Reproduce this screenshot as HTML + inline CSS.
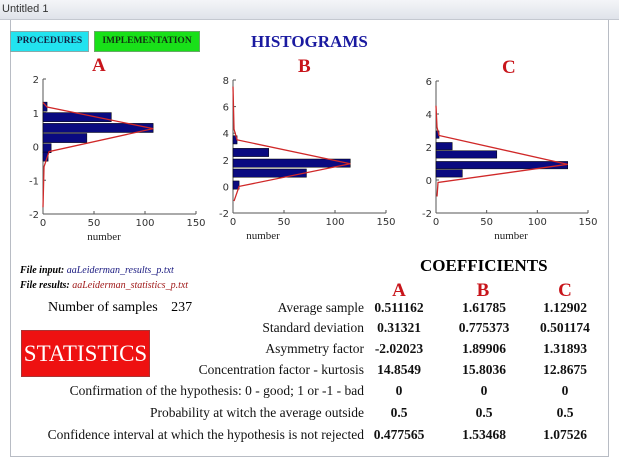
<!DOCTYPE html>
<html><head><meta charset="utf-8"><style>
body{margin:0;width:619px;height:463px;background:#fff;position:relative;overflow:hidden;font-family:"Liberation Serif",serif}
.a{position:absolute;white-space:nowrap}
.lbl{position:absolute;right:255px;font-size:13.5px;color:#111;text-align:right}
.v{position:absolute;font-size:13.5px;font-weight:bold;color:#111;transform:translateX(-50%)}
</style></head><body>
<div class="a" style="left:10px;top:0;width:597px;height:456px;border:1px solid #b8bcc4;border-top:none"></div>
<div class="a" style="left:0;top:0;width:619px;height:19px;background:linear-gradient(#f4f5f8,#dfe3ea);border-bottom:1px solid #c4c8d0"></div>
<div class="a" style="left:2px;top:3px;font:11px 'Liberation Sans',sans-serif;color:#333">Untitled 1</div>
<div class="a" style="left:10px;top:31px;width:77px;height:19px;background:#22e3ef;border:1px solid #8aa;font:bold 9.5px 'Liberation Serif',serif;color:#124;line-height:19px;text-align:center">PROCEDURES</div>
<div class="a" style="left:94px;top:31px;width:104px;height:19px;background:#19e019;border:1px solid #6a6;font:bold 9.5px 'Liberation Serif',serif;color:#131;line-height:19px;text-align:center">IMPLEMENTATION</div>
<div class="a" style="left:251px;top:32px;font-weight:bold;font-size:17px;color:#1a1aa0">HISTOGRAMS</div>
<div class="a" style="left:92px;top:55px;font-weight:bold;font-size:19px;color:#c8151b">A</div>
<div class="a" style="left:298px;top:56px;font-weight:bold;font-size:19px;color:#c8151b">B</div>
<div class="a" style="left:502px;top:57px;font-weight:bold;font-size:19px;color:#c8151b">C</div>
<svg id="svg" width="619" height="463" style="position:absolute;left:0;top:0"></svg>
<div class="a" style="left:20px;top:265px;font-size:10px;font-style:italic;font-weight:bold">File input: <span style="font-weight:normal;color:#1a1a80">aaLeiderman_results_p.txt</span></div>
<div class="a" style="left:20px;top:280px;font-size:10px;font-style:italic;font-weight:bold">File results: <span style="font-weight:normal;color:#a01a1a">aaLeiderman_statistics_p.txt</span></div>
<div class="a" style="left:48px;top:300px;font-size:14px">Number of samples <span style="margin-left:10px">237</span></div>
<div class="a" style="left:21px;top:330px;width:127px;height:45px;background:#ee1111;border:1px solid #a33;color:#fff;font-size:23px;line-height:45px;text-align:center">STATISTICS</div>
<div class="a" style="left:420px;top:256px;font-weight:bold;font-size:17px">COEFFICIENTS</div>
<div class="v" style="left:399px;top:280px;font-size:19px;color:#c8151b;font-weight:bold">A</div>
<div class="v" style="left:483px;top:280px;font-size:19px;color:#c8151b;font-weight:bold">B</div>
<div class="v" style="left:565px;top:280px;font-size:19px;color:#c8151b;font-weight:bold">C</div>
<div id="tbl"></div>
<script>
const rowLabels=["Average sample","Standard deviation","Asymmetry factor","Concentration factor - kurtosis","Confirmation of the hypothesis: 0 - good; 1 or -1 - bad","Probability at witch the average outside","Confidence interval at which the hypothesis is not rejected"];
const valsA=["0.511162","0.31321","-2.02023","14.8549","0","0.5","0.477565"];
const valsB=["1.61785","0.775373","1.89906","15.8036","0","0.5","1.53468"];
const valsC=["1.12902","0.501174","1.31893","12.8675","0","0.5","1.07526"];
const rowTops=[300,320,341,362,383,405,427];
const tbl=document.getElementById('tbl');
rowLabels.forEach((l,i)=>{
 const d=document.createElement('div');d.className='lbl';d.style.top=rowTops[i]+'px';d.textContent=l;
 
 
 tbl.appendChild(d);
 [[valsA,399],[valsB,484],[valsC,565]].forEach(([arr,x])=>{
  const v=document.createElement('div');v.className='v';v.style.left=x+'px';v.style.top=rowTops[i]+'px';v.textContent=arr[i];
  
  
  tbl.appendChild(v);
 });
});

// chart data
const xTicks=[0,50,100,150];
const aCenters=[1.18,0.87,0.55,0.25,-0.05,-0.3];
const aCounts=[4,67,108,43,8,5];
const aCurveY=[-1.8,-0.6,-0.15,0.53,1.17,1.3];
const aCurveX=[0,1,6,108,4,0];
const aYTicks=[-2,-1,0,1,2];
const bCenters=[3.5,2.55,1.75,1.0,0.1];
const bCounts=[4,35,115,72,6];
const bCurveY=[-1.1,0.0,1.7,3.5,4.3,7.5];
const bCurveX=[1,6,115,4,1,0];
const bYTicks=[-2,0,2,4,6,8];
const cCenters=[2.75,2.05,1.55,0.9,0.4];
const cCounts=[3,16,60,130,26];
const cCurveY=[-1,-0.15,0.95,2.7,3.2,4.5];
const cCurveX=[1,2,130,3,1,0];
const cYTicks=[-2,0,2,4,6];

const NS='http://www.w3.org/2000/svg';const svg=document.getElementById('svg');
function el(t,a,txt){const e=document.createElementNS(NS,t);for(const k in a)e.setAttribute(k,a[k]);if(txt!==undefined)e.textContent=txt;svg.appendChild(e);return e;}
function chart(name,x0,x150,ymin,ymax,yTop,yBot,centers,counts,bh,cy,cx,yt,xlabX){
 const sx=v=>x0+v*(x150-x0)/150, sy=v=>yBot-(v-ymin)*(yBot-yTop)/(ymax-ymin);
 let e=el('line',{x1:x0,y1:yTop,x2:x0,y2:yBot,stroke:'#555'});
 
 
 e=el('line',{x1:x0,y1:yBot,x2:x150,y2:yBot,stroke:'#555'});
 
 
 yt.forEach(v=>{el('line',{x1:x0,y1:sy(v),x2:x0+3,y2:sy(v),stroke:'#555'});
  e=el('text',{x:x0-4,y:sy(v)+4,'text-anchor':'end','font-size':10,'font-family':'DejaVu Sans,sans-serif',fill:'#333'},v);
  
  });
 xTicks.forEach(v=>{el('line',{x1:sx(v),y1:yBot,x2:sx(v),y2:yBot-3,stroke:'#555'});
  e=el('text',{x:sx(v),y:yBot+12,'text-anchor':'middle','font-size':10,'font-family':'DejaVu Sans,sans-serif',fill:'#333'},v);
  
  });
 centers.forEach((c,i)=>{const t=sy(c+bh/2),b=sy(c-bh/2);
  e=el('rect',{x:x0,y:t,width:sx(counts[i])-x0,height:b-t,fill:'#0a0a80',stroke:'#000','stroke-width':0.5});
  
  });
 e=el('polyline',{points:cy.map((v,i)=>sx(cx[i])+','+sy(v)).join(' '),fill:'none',stroke:'#d02828','stroke-width':1.3});
 
 
 e=el('text',{x:xlabX,y:yBot+26,'text-anchor':'middle','font-size':11,'font-family':'Liberation Serif,serif',fill:'#222'},'number');
 
 
}
chart('chart-a',43,196,-2,2,79,214,aCenters,aCounts,0.27,aCurveY,aCurveX,aYTicks,104);
chart('chart-b',233,386,-2,8,80,213,bCenters,bCounts,0.62,bCurveY,bCurveX,bYTicks,263);
chart('chart-c',436,588,-2,6,81,213,cCenters,cCounts,0.45,cCurveY,cCurveX,cYTicks,511);
</script>
</body></html>
